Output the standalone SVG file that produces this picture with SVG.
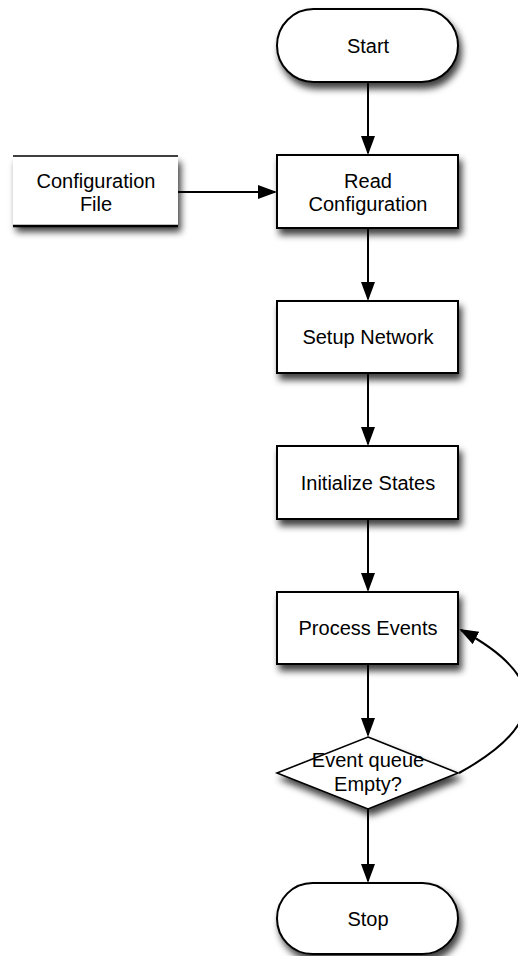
<svg xmlns="http://www.w3.org/2000/svg" width="518" height="956" viewBox="0 0 518 956">
  <defs>
    <filter id="shadow" x="-20%" y="-20%" width="150%" height="160%">
      <feDropShadow dx="3" dy="6" stdDeviation="3.5" flood-color="#000" flood-opacity="0.75"/>
    </filter>
    <marker id="arrow" markerUnits="userSpaceOnUse" markerWidth="20" markerHeight="16" refX="17" refY="7" orient="auto">
      <path d="M0,0 L19,7 L0,14 Z" fill="#000"/>
    </marker>
    <style>
      .box { fill: #fff; stroke: #000; stroke-width: 2; }
      .label { font-family: "Liberation Sans", Arial, Helvetica, sans-serif; font-size: 20px; fill: #000; text-anchor: middle; }
      .edge { fill: none; stroke: #000; stroke-width: 2; marker-end: url(#arrow); }
    </style>
  </defs>
  <rect width="518" height="956" fill="#fff"/>

  <!-- connectors -->
  <g id="connectors">
    <path class="edge" d="M368,82 L368,153"/>
    <path class="edge" d="M178,192 L275,192"/>
    <path class="edge" d="M368,228 L368,299"/>
    <path class="edge" d="M368,373 L368,444"/>
    <path class="edge" d="M368,519 L368,590"/>
    <path class="edge" d="M368,664 L368,735"/>
    <path class="edge" d="M368,809 L368,881"/>
    <path class="edge" d="M459,773 Q592,700 461,630"/>
  </g>

  <!-- start terminator -->
  <g id="start">
    <rect class="box" x="277" y="9" width="181" height="73" rx="36.5" ry="36.5" filter="url(#shadow)"/>
    <text class="label" x="368" y="53">Start</text>
  </g>

  <!-- configuration file (stored data) -->
  <g id="config-file">
    <rect x="13" y="156" width="165" height="70" fill="#fff" filter="url(#shadow)"/>
    <line x1="13" y1="156" x2="178" y2="156" stroke="#000" stroke-width="1.5"/>
    <line x1="13" y1="226" x2="178" y2="226" stroke="#000" stroke-width="2.5"/>
    <text class="label" x="96" y="188">Configuration</text>
    <text class="label" x="96" y="211">File</text>
  </g>

  <g id="read-config">
    <rect class="box" x="277" y="155" width="181" height="73" filter="url(#shadow)"/>
    <text class="label" x="368" y="188">Read</text>
    <text class="label" x="368" y="211">Configuration</text>
  </g>

  <g id="setup-network">
    <rect class="box" x="277" y="301" width="181" height="72" filter="url(#shadow)"/>
    <text class="label" x="368" y="344">Setup Network</text>
  </g>

  <g id="init-states">
    <rect class="box" x="277" y="446" width="181" height="73" filter="url(#shadow)"/>
    <text class="label" x="368" y="490">Initialize States</text>
  </g>

  <g id="process-events">
    <rect class="box" x="277" y="592" width="181" height="72" filter="url(#shadow)"/>
    <text class="label" x="368" y="635">Process Events</text>
  </g>

  <!-- decision -->
  <g id="queue-empty">
    <polygon points="368,737 458,773 368,809 277,773" fill="#fff" stroke="#000" stroke-width="1.6" filter="url(#shadow)"/>
    <text class="label" x="368" y="767">Event queue</text>
    <text class="label" x="368" y="791">Empty?</text>
  </g>

  <!-- stop terminator -->
  <g id="stop">
    <rect class="box" x="277" y="883" width="181" height="71" rx="35.5" ry="35.5" filter="url(#shadow)"/>
    <text class="label" x="368" y="926">Stop</text>
  </g>
</svg>
